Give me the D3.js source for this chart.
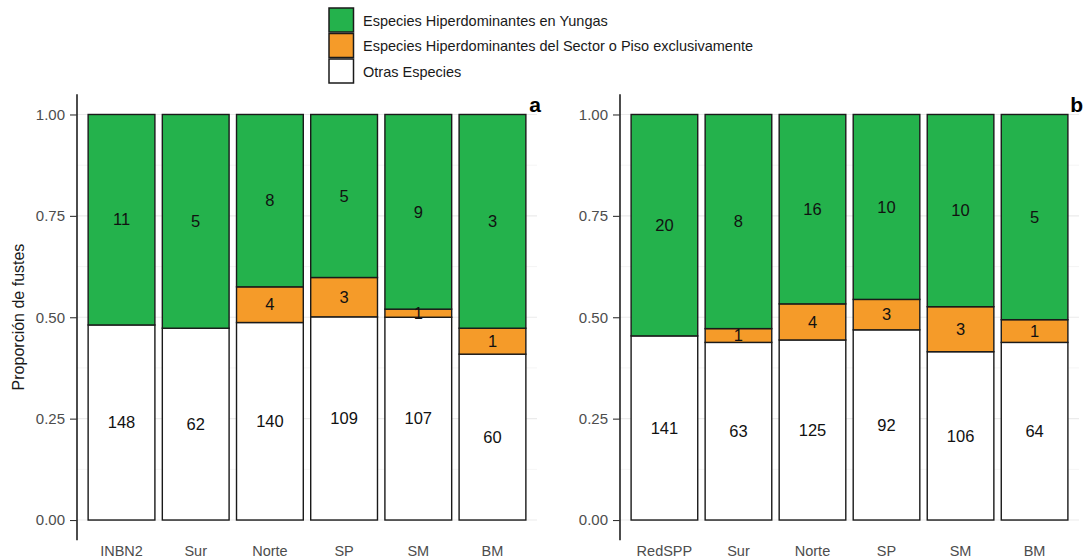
<!DOCTYPE html>
<html>
<head>
<meta charset="utf-8">
<script src="https://cdn.jsdelivr.net/npm/d3@7"></script>
<style>
  html, body { margin: 0; padding: 0; background: #fff; }
  svg { display: block; font-family: "Liberation Sans", Arial, Helvetica, sans-serif; }
</style>
</head>
<body>
<svg id="chart" width="1090" height="560"></svg>
<script>
// Series keys, bottom to top
const seriesKeys = ["otras", "sector", "yungas"];
const legendLabels = [
  "Especies Hiperdominantes en Yungas",
  "Especies Hiperdominantes del Sector o Piso exclusivamente",
  "Otras Especies"
];
const legendKeys = ["yungas", "sector", "otras"];
const colors = { yungas: "#24b24c", sector: "#f59b29", otras: "#ffffff" };

const yTicks = [0, 0.25, 0.5, 0.75, 1];
const yMinor = [0.125, 0.375, 0.625, 0.875];

// Panel a: proportion of stems per group and number of species in each group
const catsA = ["INBN2", "Sur", "Norte", "SP", "SM", "BM"];
const otrasA = [0.481, 0.473, 0.487, 0.501, 0.500, 0.409];
const sectorA = [0, 0, 0.088, 0.097, 0.020, 0.064];
const yungasA = [0.519, 0.527, 0.425, 0.402, 0.480, 0.527];
const nOtrasA = [148, 62, 140, 109, 107, 60];
const nSectorA = [null, null, 4, 3, 1, 1];
const nYungasA = [11, 5, 8, 5, 9, 3];

// Panel b
const catsB = ["RedSPP", "Sur", "Norte", "SP", "SM", "BM"];
const otrasB = [0.454, 0.438, 0.444, 0.469, 0.415, 0.438];
const sectorB = [0, 0.034, 0.089, 0.075, 0.111, 0.056];
const yungasB = [0.546, 0.528, 0.467, 0.456, 0.474, 0.506];
const nOtrasB = [141, 63, 125, 92, 106, 64];
const nSectorB = [null, 1, 4, 3, 3, 1];
const nYungasB = [20, 8, 16, 10, 10, 5];

const svg = d3.select("#chart");

function buildRows(cats, o, s, y, no, ns, ny) {
  return cats.map((c, i) => ({
    cat: c, otras: o[i], sector: s[i], yungas: y[i],
    n: { otras: no[i], sector: ns[i], yungas: ny[i] }
  }));
}

function drawPanel(opts) {
  const { left, right, top, bottom, rows, tag } = opts;
  const g = svg.append("g");

  const y = d3.scaleLinear().domain([-0.05, 1.05]).range([bottom, top]);
  const cats = rows.map(d => d.cat);
  // discrete axis with 0.6 units of padding on each side, bars 0.9 wide
  const n = cats.length;
  const step = (right - left) / (n + 0.2);
  const x = d3.scaleBand().domain(cats)
    .range([left + 0.1 * step, right - 0.1 * step])
    .paddingInner(0.1).paddingOuter(0.05);

  // grid
  g.selectAll("line.minor").data(yMinor).join("line")
    .attr("x1", left).attr("x2", right)
    .attr("y1", d => y(d)).attr("y2", d => y(d))
    .attr("stroke", "#f2f2f2").attr("stroke-width", 0.8);
  g.selectAll("line.major").data(yTicks).join("line")
    .attr("x1", left).attr("x2", right)
    .attr("y1", d => y(d)).attr("y2", d => y(d))
    .attr("stroke", "#ebebeb").attr("stroke-width", 1.1);

  // stacked bars
  const stacked = d3.stack().keys(seriesKeys)(rows);
  stacked.forEach(layer => {
    const key = layer.key;
    g.append("g").selectAll("rect").data(layer.filter(d => d[1] - d[0] > 0)).join("rect")
      .attr("x", d => x(d.data.cat))
      .attr("width", x.bandwidth())
      .attr("y", d => y(d[1]))
      .attr("height", d => y(d[0]) - y(d[1]))
      .attr("fill", colors[key])
      .attr("stroke", "#1a1a1a")
      .attr("stroke-width", 1.4);
  });

  // count labels centred in each segment
  stacked.forEach(layer => {
    const key = layer.key;
    g.append("g").selectAll("text").data(layer.filter(d => d.data.n[key] != null)).join("text")
      .attr("x", d => x(d.data.cat) + x.bandwidth() / 2)
      .attr("y", d => y((d[0] + d[1]) / 2))
      .attr("dy", "0.35em")
      .attr("text-anchor", "middle")
      .attr("font-size", 16.5)
      .attr("fill", "#111")
      .text(d => d.data.n[key]);
  });

  // y axis
  const axis = d3.axisLeft(y).tickValues(yTicks).tickFormat(d3.format(".2f")).tickSize(7).tickPadding(5);
  const ag = g.append("g").attr("transform", `translate(${left},0)`).call(axis);
  ag.select(".domain").attr("d", `M0,${y(1.05)}V${y(-0.05)}`).attr("stroke", "#000").attr("stroke-width", 1.4);
  ag.selectAll(".tick line").attr("stroke", "#333").attr("stroke-width", 1.1);
  ag.selectAll(".tick text").attr("fill", "#4d4d4d").attr("font-size", 15)
    .attr("font-family", "'Liberation Sans', Arial, sans-serif");

  // x labels
  g.selectAll("text.xl").data(cats).join("text")
    .attr("x", d => x(d) + x.bandwidth() / 2)
    .attr("y", 555.5)
    .attr("text-anchor", "middle")
    .attr("font-size", 14.5)
    .attr("fill", "#4d4d4d")
    .text(d => d);

  // panel tag
  g.append("text").attr("x", right + 4).attr("y", 111.5)
    .attr("text-anchor", "end").attr("font-size", 21).attr("font-weight", "bold")
    .attr("fill", "#000").text(tag);
}

drawPanel({ left: 77, right: 537, top: 94.2, bottom: 540.3,
  rows: buildRows(catsA, otrasA, sectorA, yungasA, nOtrasA, nSectorA, nYungasA), tag: "a" });
drawPanel({ left: 620, right: 1079, top: 94.2, bottom: 540.3,
  rows: buildRows(catsB, otrasB, sectorB, yungasB, nOtrasB, nSectorB, nYungasB), tag: "b" });

// y axis title
svg.append("text")
  .attr("transform", "translate(24,317) rotate(-90)")
  .attr("text-anchor", "middle")
  .attr("font-size", 16)
  .attr("fill", "#1a1a1a")
  .text("Proporción de fustes");

// legend
const lg = svg.append("g").attr("transform", "translate(329,8)");
const legendRows = lg.selectAll("g").data(legendKeys).join("g")
  .attr("transform", (d, i) => `translate(0,${i * 25.5})`);
legendRows.append("rect")
  .attr("width", 24.5).attr("height", 24)
  .attr("fill", d => colors[d]).attr("stroke", "#1a1a1a").attr("stroke-width", 1.5);
legendRows.append("text")
  .attr("x", 34).attr("y", 12.5).attr("dy", "0.35em")
  .attr("font-size", 14.5).attr("fill", "#1a1a1a")
  .text((d, i) => legendLabels[i]);
</script>
</body>
</html>
